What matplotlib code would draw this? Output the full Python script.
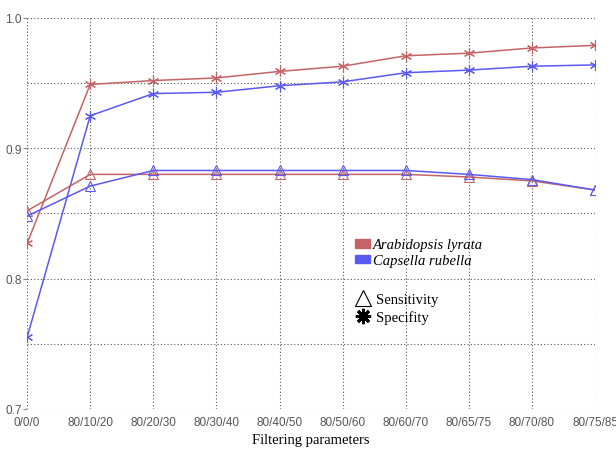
import numpy as np
import matplotlib.pyplot as plt
from matplotlib.patches import Patch
from matplotlib.lines import Line2D

params = ["0/0/0", "80/10/20", "80/20/30", "80/30/40", "80/40/50",
          "80/50/60", "80/60/70", "80/65/75", "80/70/80", "80/75/85"]

lyrata_spec = [0.827, 0.949, 0.952, 0.954, 0.959, 0.963, 0.971, 0.973, 0.977, 0.979]
lyrata_sens = [0.852, 0.880, 0.880, 0.880, 0.880, 0.880, 0.880, 0.878, 0.875, 0.868]
rubella_spec = [0.755, 0.925, 0.942, 0.943, 0.948, 0.951, 0.958, 0.960, 0.963, 0.964]
rubella_sens = [0.848, 0.871, 0.883, 0.883, 0.883, 0.883, 0.883, 0.880, 0.876, 0.868]

red = "#c46466"
blue = "#5a5af2"
star = (6, 2, 0)

x = np.arange(len(params))

fig = plt.figure(figsize=(6.16, 4.52), dpi=100)
ax = fig.add_axes([0.044, 0.093, 0.922, 0.865])

ax.plot(x, lyrata_spec, color=red, lw=1.1, marker=star, ms=8, mew=0.8)
ax.plot(x, rubella_spec, color=blue, lw=1.1, marker=star, ms=8, mew=0.8)
ax.plot(x, lyrata_sens, color=red, lw=1.1, marker="^", ms=7, mfc="none", mew=0.8)
ax.plot(x, rubella_sens, color=blue, lw=1.1, marker="^", ms=7, mfc="none", mew=0.8)

ax.set_xlim(0, len(params) - 1)
ax.set_ylim(0.7, 1.0)
ax.set_xticks(x)
ax.set_xticklabels(params, family="Liberation Sans")
ax.set_yticks([0.7, 0.8, 0.9, 1.0])
ax.set_yticks([0.75, 0.85, 0.95], minor=True)
for t in ax.get_yticklabels():
    t.set_family("Liberation Sans")
ax.grid(True, which="both", linestyle=(0, (1, 2)), color="#555555", lw=0.8)
for s in ax.spines.values():
    s.set_visible(False)
ax.tick_params(axis="y", which="major", length=3, color="#888888", labelsize=8.5, labelcolor="#555555", pad=1)
ax.tick_params(axis="y", which="minor", length=0)
ax.tick_params(axis="x", length=0, labelsize=8.5, labelcolor="#555555", pad=5)
ax.set_xlabel("Filtering parameters", family="Liberation Serif", fontsize=10.5, labelpad=4)

leg1 = ax.legend(handles=[Patch(color=red, label="Arabidopsis lyrata"),
                          Patch(color=blue, label="Capsella rubella")],
                 loc="upper left", bbox_to_anchor=(0.555, 0.47), frameon=False,
                 prop={"family": "Liberation Serif", "style": "italic", "size": 10.5},
                 handlelength=1.0, handleheight=0.55, handletextpad=0.2, labelspacing=0.2)
ax.add_artist(leg1)
ax.legend(handles=[Line2D([], [], ls="none", marker="^", color="black", mfc="none", ms=11, mew=0.8, label="Sensitivity"),
                   Line2D([], [], ls="none", marker=(8, 2, 0), color="black", ms=11, mew=2, label="Specifity")],
          loc="upper left", bbox_to_anchor=(0.555, 0.33), frameon=False,
          prop={"family": "Liberation Serif", "size": 10.5},
          handlelength=1.0, handletextpad=0.4, labelspacing=0.3)

fig.savefig("out.png", dpi=100)
